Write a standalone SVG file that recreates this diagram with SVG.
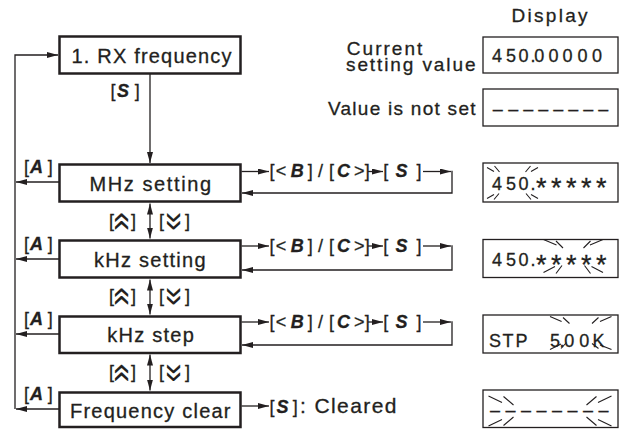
<svg xmlns="http://www.w3.org/2000/svg" width="629" height="429" viewBox="0 0 629 429">
<style>
text{font-family:"Liberation Sans",Arial,sans-serif;fill:#231f20;stroke:#231f20;stroke-width:0.3px}
.box{fill:#fff;stroke:#231f20;stroke-width:2.5}
.disp{fill:#fff;stroke:#231f20;stroke-width:1.3}
.ln{fill:none;stroke:#231f20;stroke-width:1.3}
.sp{fill:none;stroke:#231f20;stroke-width:1.1}
.t20{font-size:20px}
.t19{font-size:19px}
.k{font-size:18px}
.bi{font-weight:bold;font-style:italic}
.d{font-size:18px}
.ast{font-size:27px}
.chev{font-size:34px;stroke-width:0.1px}
</style>
<defs>
<marker id="ah" viewBox="0 0 11 6" refX="11" refY="3" markerWidth="11" markerHeight="6" orient="auto-start-reverse" markerUnits="userSpaceOnUse"><path d="M0,0 L11,3 L0,6 z" fill="#231f20"/></marker>
</defs>
<rect width="629" height="429" fill="#fff"/>

<g id="connectors">
<path class="ln" d="M15,409 V55 H58" marker-end="url(#ah)"/>
<path class="ln" d="M150,74 V163" marker-end="url(#ah)"/>
<path class="ln" d="M59,182 H16" marker-end="url(#ah)"/>
<path class="ln" d="M59,259 H16" marker-end="url(#ah)"/>
<path class="ln" d="M59,334 H16" marker-end="url(#ah)"/>
<path class="ln" d="M59,409 H16" marker-end="url(#ah)"/>
<path class="ln" d="M150,203.5 V238.5" marker-start="url(#ah)" marker-end="url(#ah)"/>
<path class="ln" d="M150,279.5 V314.5" marker-start="url(#ah)" marker-end="url(#ah)"/>
<path class="ln" d="M150,354.5 V390.5" marker-start="url(#ah)" marker-end="url(#ah)"/>
<path class="ln" d="M241.5,171.5 H269" marker-end="url(#ah)"/>
<path class="ln" d="M368,171.5 H383" marker-end="url(#ah)"/>
<path class="ln" d="M423,171.5 H451" marker-end="url(#ah)"/>
<path class="ln" d="M452,170.85 V193 H242" marker-end="url(#ah)"/>
<path class="ln" d="M241.5,246 H269" marker-end="url(#ah)"/>
<path class="ln" d="M368,246 H383" marker-end="url(#ah)"/>
<path class="ln" d="M423,246 H451" marker-end="url(#ah)"/>
<path class="ln" d="M452,245.35 V270 H242" marker-end="url(#ah)"/>
<path class="ln" d="M241.5,322 H269" marker-end="url(#ah)"/>
<path class="ln" d="M368,322 H383" marker-end="url(#ah)"/>
<path class="ln" d="M423,322 H451" marker-end="url(#ah)"/>
<path class="ln" d="M452,321.35 V345 H242" marker-end="url(#ah)"/>
<path class="ln" d="M241.5,406 H269" marker-end="url(#ah)"/>

<text class="k" y="97.3"><tspan x="110.6">[</tspan><tspan x="117" class="bi">S</tspan><tspan x="134.7">]</tspan></text>
<text class="k" y="172.5"><tspan x="23.9">[</tspan><tspan x="30" class="bi">A</tspan><tspan x="47.7">]</tspan></text>
<text class="k" y="249.5"><tspan x="23.9">[</tspan><tspan x="30" class="bi">A</tspan><tspan x="47.7">]</tspan></text>
<text class="k" y="324.5"><tspan x="23.9">[</tspan><tspan x="30" class="bi">A</tspan><tspan x="47.7">]</tspan></text>
<text class="k" y="399.5"><tspan x="23.9">[</tspan><tspan x="30" class="bi">A</tspan><tspan x="47.7">]</tspan></text>

<text class="k" y="226.5"><tspan x="109">[</tspan><tspan class="chev" x="112.5" y="212" rotate="90">«</tspan><tspan x="131" y="226.5">]</tspan></text>
<text class="k" y="226.5"><tspan x="159">[</tspan><tspan class="chev" x="164.5" y="212" rotate="90">»</tspan><tspan x="185" y="226.5">]</tspan></text>
<text class="k" y="301.5"><tspan x="109">[</tspan><tspan class="chev" x="112.5" y="287" rotate="90">«</tspan><tspan x="131" y="301.5">]</tspan></text>
<text class="k" y="301.5"><tspan x="159">[</tspan><tspan class="chev" x="164.5" y="287" rotate="90">»</tspan><tspan x="185" y="301.5">]</tspan></text>
<text class="k" y="378"><tspan x="109">[</tspan><tspan class="chev" x="112.5" y="363.5" rotate="90">«</tspan><tspan x="131" y="378">]</tspan></text>
<text class="k" y="378"><tspan x="159">[</tspan><tspan class="chev" x="164.5" y="363.5" rotate="90">»</tspan><tspan x="185" y="378">]</tspan></text>

<text class="k" y="177"><tspan x="269.6">[</tspan><tspan x="275.8">&lt;</tspan><tspan x="290.8" class="bi">B</tspan><tspan x="307.7">]</tspan><tspan x="318">/</tspan><tspan x="328.9">[</tspan><tspan x="337" class="bi">C</tspan><tspan x="354.1">&gt;</tspan><tspan x="364.7">]</tspan></text>
<text class="k" y="177"><tspan x="383.3">[</tspan><tspan x="395.5" class="bi">S</tspan><tspan x="416.5">]</tspan></text>
<text class="k" y="251.5"><tspan x="269.6">[</tspan><tspan x="275.8">&lt;</tspan><tspan x="290.8" class="bi">B</tspan><tspan x="307.7">]</tspan><tspan x="318">/</tspan><tspan x="328.9">[</tspan><tspan x="337" class="bi">C</tspan><tspan x="354.1">&gt;</tspan><tspan x="364.7">]</tspan></text>
<text class="k" y="251.5"><tspan x="383.3">[</tspan><tspan x="395.5" class="bi">S</tspan><tspan x="416.5">]</tspan></text>
<text class="k" y="327.5"><tspan x="269.6">[</tspan><tspan x="275.8">&lt;</tspan><tspan x="290.8" class="bi">B</tspan><tspan x="307.7">]</tspan><tspan x="318">/</tspan><tspan x="328.9">[</tspan><tspan x="337" class="bi">C</tspan><tspan x="354.1">&gt;</tspan><tspan x="364.7">]</tspan></text>
<text class="k" y="327.5"><tspan x="383.3">[</tspan><tspan x="395.5" class="bi">S</tspan><tspan x="416.5">]</tspan></text>
<text class="k" y="413"><tspan x="269.6">[</tspan><tspan x="276.5" class="bi">S</tspan><tspan x="292.8">]</tspan><tspan x="300" style="font-size:21px;letter-spacing:1.4px">: Cleared</tspan></text>
</g>

<g id="n-rx"><rect class="box" x="59.5" y="36.5" width="181" height="37"/><text class="t20" x="71.5" y="63" textLength="160" lengthAdjust="spacing">1. RX frequency</text></g>
<g id="n-mhz"><rect class="box" x="59.5" y="164.5" width="181" height="37"/><text class="t20" x="89.5" y="190.5" textLength="121.5" lengthAdjust="spacing">MHz setting</text></g>
<g id="n-khz"><rect class="box" x="59.5" y="240.5" width="181" height="37"/><text class="t20" x="94" y="266.5" textLength="111.5" lengthAdjust="spacing">kHz setting</text></g>
<g id="n-step"><rect class="box" x="59.5" y="316.5" width="181" height="36.5"/><text class="t20" x="107.3" y="341.5" textLength="86.5" lengthAdjust="spacing">kHz step</text></g>
<g id="n-clear"><rect class="box" x="59.5" y="392.5" width="181" height="34.5"/><text class="t20" x="70" y="418" textLength="160.5" lengthAdjust="spacing">Frequency clear</text></g>

<g id="display">
<text class="t19" x="511.5" y="22" textLength="76" lengthAdjust="spacing">Display</text>
<text class="t19" x="346.8" y="55" textLength="75.5" lengthAdjust="spacing">Current</text>
<text class="t19" x="346" y="70.5" textLength="129.5" lengthAdjust="spacing">setting value</text>
<text class="t19" x="328" y="115" textLength="147.5" lengthAdjust="spacing">Value is not set</text>

<g id="d-current"><rect class="disp" x="483" y="37" width="135" height="36"/>
<text class="d" x="492 506 518.6 530.5 534.3 548.6 562.6 577.6 592" y="62">450.00000</text></g>

<g id="d-notset"><rect class="disp" x="483" y="89" width="135" height="37"/>
<text class="d" x="492.7 508.3 523.3 538.3 553.3 568.3 583.3 598.3" y="115">––––––––</text></g>

<g id="d-mhz"><rect class="disp" x="483" y="163" width="135" height="39"/>
<text class="d" y="189.5"><tspan x="492 506 518.6 530.5">450.</tspan><tspan class="ast" x="536 551 566 581 596" y="197.3">*****</tspan></text>
<path class="sp" d="M487,167.5 L494,171.5 M494.5,166 L499.5,172 M538,167.5 L531,171.5 M530.5,166 L525.5,172 M487,198.5 L494,194.5 M494,199.5 L499,193.5 M538,198.5 L531,194.5 M531,199.5 L526,193.5"/></g>

<g id="d-khz"><rect class="disp" x="483" y="239.5" width="135" height="38"/>
<text class="d" y="266"><tspan x="492 506 518.6 530.5">450.</tspan><tspan class="ast" x="536 551 566 581 596" y="273.8">*****</tspan></text>
<path class="sp" d="M543.5,239.5 L556.5,245 M556,241 L563,248 M603,239.5 L590,245 M590.5,241 L583.5,248 M543.5,272.5 L555,266.5 M556,273.5 L562,265.5 M603,272.5 L591.5,266.5 M590.5,273.5 L584.5,265.5"/></g>

<g id="d-step"><rect class="disp" x="483" y="315" width="135" height="38"/>
<text class="d" x="489 502.6 515.6 530 550 559.4 564.3 579.3 592.6" y="347">STP 5.00K</text>
<path class="sp" d="M550,316.5 L561.6,321.5 M563,317.5 L569.5,323.5 M611.5,316.5 L600,321.5 M598.5,317.5 L592,323.5 M550,349.5 L561,344 M561,348.5 L566.5,342.5 M611.5,349.5 L600,345 M598.5,348.5 L592,343.5"/></g>

<g id="d-clear"><rect class="disp" x="483" y="390" width="135" height="37.5"/>
<text class="d" x="490 505.5 521 536.5 552 567.5 583 598.5" y="416">––––––––</text>
<path class="sp" d="M488.5,396 L502,402.5 M503.5,396.5 L513.5,405 M611.5,396 L598,402.5 M596.5,396.5 L586.5,405 M488.5,426 L502,419.5 M503.5,425.5 L513.5,417 M611.5,426 L598,419.5 M596.5,425.5 L586.5,417"/></g>
</g>
</svg>
